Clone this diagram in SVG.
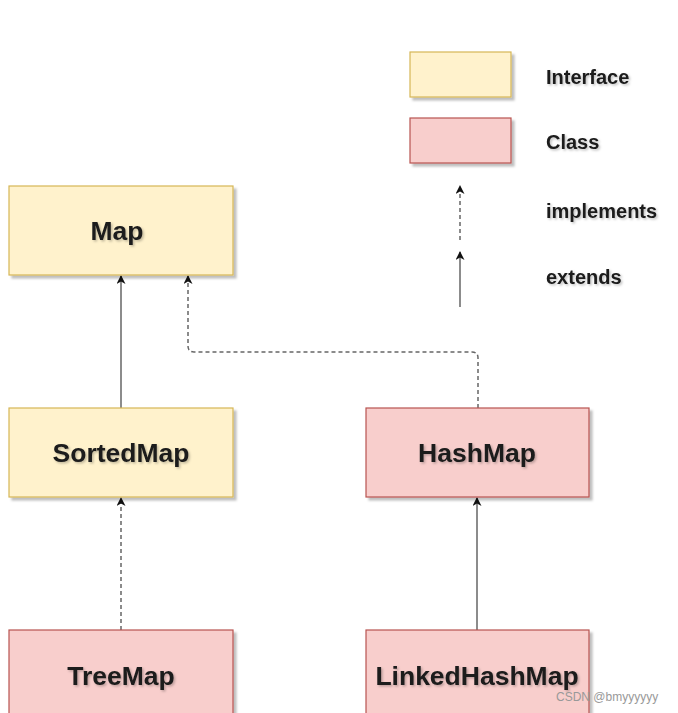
<svg xmlns="http://www.w3.org/2000/svg" width="678" height="713" viewBox="0 0 678 713">
<style>
.iface{fill:#fff2cc;stroke:#d6b656;stroke-width:1.2;filter:url(#sh)}
.cls{fill:#f8cecc;stroke:#b85450;stroke-width:1.2;filter:url(#sh)}
.lbl{font-family:"Liberation Sans",Arial,sans-serif;font-weight:bold;font-size:26.5px;fill:#1a1a1a;text-anchor:middle;filter:url(#tsh)}
.leg{font-family:"Liberation Sans",Arial,sans-serif;font-weight:bold;font-size:20px;fill:#1a1a1a;filter:url(#tsh)}
.ln{fill:none;stroke:#666;stroke-width:1.5}
.dash{stroke-dasharray:4 3}
</style>
<defs>
<filter id="sh" x="-10%" y="-10%" width="130%" height="130%">
<feDropShadow dx="3" dy="3" stdDeviation="1.2" flood-color="#000" flood-opacity="0.25"/>
</filter>
<filter id="tsh" x="-10%" y="-20%" width="130%" height="150%">
<feDropShadow dx="1.5" dy="1.5" stdDeviation="1" flood-color="#000" flood-opacity="0.25"/>
</filter>
<marker id="arr" viewBox="0 0 10 10" refX="9" refY="5" markerWidth="10" markerHeight="9" orient="auto" markerUnits="userSpaceOnUse">
<path d="M0,0 L10,5 L0,10 L3,5 z" fill="#111"/>
</marker>
</defs>
<rect width="678" height="713" fill="#fff"/>

<g id="legend">
<rect class="iface" x="410" y="52" width="101" height="45"/>
<rect class="cls" x="410" y="118" width="101" height="45"/>
<text class="leg" x="546" y="84">Interface</text>
<text class="leg" x="546" y="149">Class</text>
<text class="leg" x="546" y="218">implements</text>
<text class="leg" x="546" y="284">extends</text>
<line class="ln dash" x1="460" y1="240" x2="460" y2="186" marker-end="url(#arr)"/>
<line class="ln" x1="460" y1="307" x2="460" y2="252" marker-end="url(#arr)"/>
</g>

<g id="connectors">
<line class="ln" x1="121" y1="408" x2="121" y2="276" marker-end="url(#arr)"/>
<path class="ln dash" d="M478,408 L478,358 Q478,352 472,352 L194,352 Q188,352 188,346 L188,276" marker-end="url(#arr)"/>
<line class="ln dash" x1="121" y1="630" x2="121" y2="498" marker-end="url(#arr)"/>
<line class="ln" x1="477" y1="630" x2="477" y2="498" marker-end="url(#arr)"/>
</g>

<g id="map">
<rect class="iface" x="9" y="186" width="224" height="89"/>
<text class="lbl" x="117" y="240">Map</text>
</g>
<g id="sortedmap">
<rect class="iface" x="9" y="408" width="224" height="89"/>
<text class="lbl" x="121" y="462">SortedMap</text>
</g>
<g id="hashmap">
<rect class="cls" x="366" y="408" width="223" height="89"/>
<text class="lbl" x="477" y="462">HashMap</text>
</g>
<g id="treemap">
<rect class="cls" x="9" y="630" width="224" height="100"/>
<text class="lbl" x="121" y="685">TreeMap</text>
</g>
<g id="linkedhashmap">
<rect class="cls" x="366" y="630" width="223" height="100"/>
<text class="lbl" x="477" y="685">LinkedHashMap</text>
</g>
<text x="556" y="701" font-family="'Liberation Sans',Arial,sans-serif" font-size="12" fill="#999">CSDN @bmyyyyyy</text>
</svg>
